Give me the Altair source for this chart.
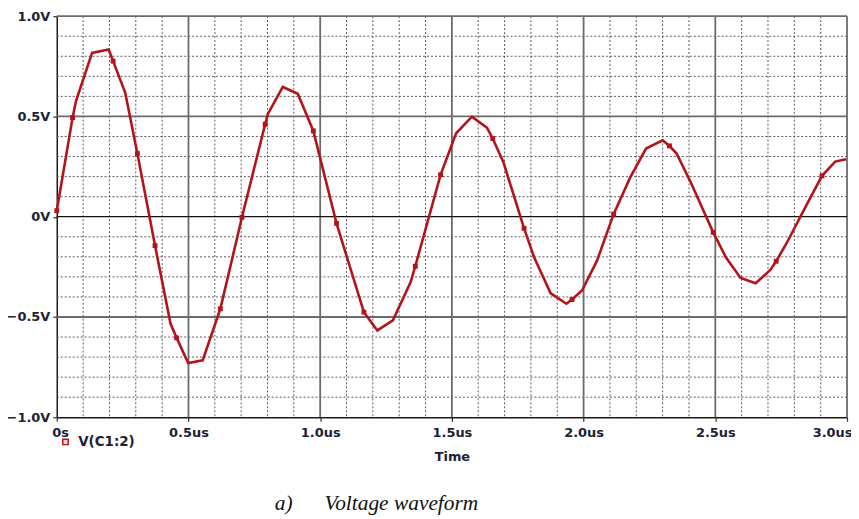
import altair as alt
import pandas as pd

# ---- data (time in microseconds, voltage in volts) ----
t_us = [0.000, 0.060, 0.073, 0.134, 0.197, 0.214, 0.260, 0.306, 0.373, 0.432,
        0.455, 0.499, 0.554, 0.621, 0.703, 0.791, 0.801, 0.858, 0.915, 0.974,
        1.062, 1.166, 1.217, 1.276, 1.343, 1.361, 1.457, 1.516, 1.576, 1.633,
        1.655, 1.696, 1.774, 1.812, 1.875, 1.935, 1.956, 1.994, 2.051, 2.114,
        2.177, 2.237, 2.300, 2.326, 2.353, 2.404, 2.492, 2.540, 2.596, 2.653,
        2.709, 2.731, 2.769, 2.845, 2.905, 2.955, 2.996]
v_volts = [0.030, 0.494, 0.577, 0.817, 0.834, 0.776, 0.618, 0.315, -0.144, -0.534,
           -0.604, -0.730, -0.716, -0.459, -0.003, 0.461, 0.511, 0.647, 0.613, 0.428,
           -0.033, -0.476, -0.567, -0.517, -0.327, -0.247, 0.209, 0.416, 0.499, 0.444,
           0.390, 0.270, -0.058, -0.202, -0.382, -0.434, -0.413, -0.368, -0.219, 0.013,
           0.196, 0.340, 0.381, 0.353, 0.315, 0.179, -0.078, -0.202, -0.305, -0.332,
           -0.265, -0.222, -0.136, 0.055, 0.204, 0.275, 0.287]

marker_t_us = [0.000, 0.060, 0.214, 0.306, 0.373, 0.455, 0.621, 0.703, 0.791, 0.974,
               1.062, 1.166, 1.361, 1.457, 1.655, 1.774, 1.956, 2.114, 2.326, 2.492,
               2.731, 2.905]
marker_v_volts = [0.030, 0.494, 0.776, 0.315, -0.144, -0.604, -0.459, -0.003, 0.461, 0.428,
                  -0.033, -0.476, -0.247, 0.209, 0.390, -0.058, -0.413, 0.013, 0.353, -0.078,
                  -0.222, 0.204]

x_tick_values = [0.0, 0.5, 1.0, 1.5, 2.0, 2.5, 3.0]
y_tick_values = [-1.0, -0.5, 0.0, 0.5, 1.0]
x_major_grid = [0.5, 1.0, 1.5, 2.0, 2.5, 3.0]
x_minor_grid = [0.1, 0.2, 0.3, 0.4, 0.6, 0.7, 0.8, 0.9, 1.1, 1.2, 1.3, 1.4,
                1.6, 1.7, 1.8, 1.9, 2.1, 2.2, 2.3, 2.4, 2.6, 2.7, 2.8, 2.9]
y_major_grid = [-0.5, 0.5, 1.0]
y_zero_line = [0.0]
y_minor_grid = [-0.9, -0.8, -0.7, -0.6, -0.4, -0.3, -0.2, -0.1,
                0.1, 0.2, 0.3, 0.4, 0.6, 0.7, 0.8, 0.9]

series_name = "V(C1:2)"
x_title = "Time"
caption_label = "a)"
caption_text = "Voltage waveform"

# ---- styling ----
RED = "#b3141c"
TXT = "#1b2236"
FONT = "DejaVu Sans"

wave = pd.DataFrame({"t": t_us, "v": v_volts, "series": series_name})
marks = pd.DataFrame({"t": marker_t_us, "v": marker_v_volts})

xscale = alt.Scale(domain=[0, 3], nice=False, zero=False)
yscale = alt.Scale(domain=[-1, 1], nice=False, zero=False)

xaxis = alt.Axis(
    values=x_tick_values,
    labelExpr="datum.value == 0 ? '0s' : format(datum.value, '.1f') + 'us'",
    title=x_title,
    grid=False,
    labelFlush=True,
    labelFlushOffset=5,
    tickSize=4,
    labelPadding=5,
    titlePadding=11,
)
yaxis = alt.Axis(
    values=y_tick_values,
    labelExpr="datum.value == 0 ? '0V' : format(datum.value, '.1f') + 'V'",
    title=None,
    grid=False,
    tickSize=4,
    labelPadding=3,
)


def X():
    return alt.X("t:Q", scale=xscale, axis=xaxis, title=x_title)


def Y():
    return alt.Y("v:Q", scale=yscale, axis=yaxis, title=None)


minor_x = alt.Chart(pd.DataFrame({"t": x_minor_grid})).mark_rule(
    color="#5a5a5a", strokeDash=[2, 2], strokeWidth=1
).encode(x=X())

minor_y = alt.Chart(pd.DataFrame({"v": y_minor_grid})).mark_rule(
    color="#5a5a5a", strokeDash=[2, 2], strokeWidth=1
).encode(y=Y())

major_x = alt.Chart(pd.DataFrame({"t": x_major_grid})).mark_rule(
    color="#6b6b6b", strokeWidth=1.8
).encode(x=X())

major_y = alt.Chart(pd.DataFrame({"v": y_major_grid})).mark_rule(
    color="#6b6b6b", strokeWidth=1.8
).encode(y=Y())

zero_y = alt.Chart(pd.DataFrame({"v": y_zero_line})).mark_rule(
    color="#111111", strokeWidth=1.3
).encode(y=Y())

line = alt.Chart(wave).mark_line(strokeWidth=2.6, strokeJoin="miter").encode(
    x=X(),
    y=Y(),
    color=alt.Color(
        "series:N",
        scale=alt.Scale(range=[RED]),
        legend=alt.Legend(
            title=None,
            orient="none",
            legendX=2,
            legendY=421,
            symbolType="square",
            symbolSize=30,
            symbolStrokeColor=RED,
            symbolFillColor="#f6d6d6",
            symbolStrokeWidth=1.5,
            labelOffset=6,
            labelFont=FONT,
            labelFontSize=13.5,
            labelFontWeight="bold",
            labelColor=TXT,
        ),
    ),
)

points = alt.Chart(marks).mark_square(size=24, color=RED, opacity=1).encode(
    x=X(),
    y=Y(),
)

cap1 = alt.Chart(pd.DataFrame({"s": [caption_label]})).mark_text(
    font="Liberation Serif", fontStyle="italic", fontSize=21.5, color="#111111",
    align="center", baseline="middle"
).encode(text="s:N", x=alt.value(228), y=alt.value(490))

cap2 = alt.Chart(pd.DataFrame({"s": [caption_text]})).mark_text(
    font="Liberation Serif", fontStyle="italic", fontSize=21.5, color="#111111",
    align="left", baseline="middle"
).encode(text="s:N", x=alt.value(269), y=alt.value(490))

chart = alt.layer(
    minor_x, minor_y, major_x, major_y, zero_y, line, points, cap1, cap2
).properties(
    width=794,
    height=403,
    autosize=alt.AutoSizeParams(type="none"),
    padding={"left": 49, "top": 7, "right": 4, "bottom": 100},
).configure_view(
    stroke=None
).configure_axis(
    labelFont=FONT,
    labelFontSize=13,
    labelFontWeight="bold",
    labelColor=TXT,
    titleFont=FONT,
    titleFontSize=13,
    titleFontWeight="bold",
    titleColor=TXT,
    domainColor="#1a1a1a",
    domainWidth=1.5,
    tickColor="#333333",
    tickWidth=1.2,
)

chart.save("out.html", embed_options={"renderer": "svg", "actions": False})
